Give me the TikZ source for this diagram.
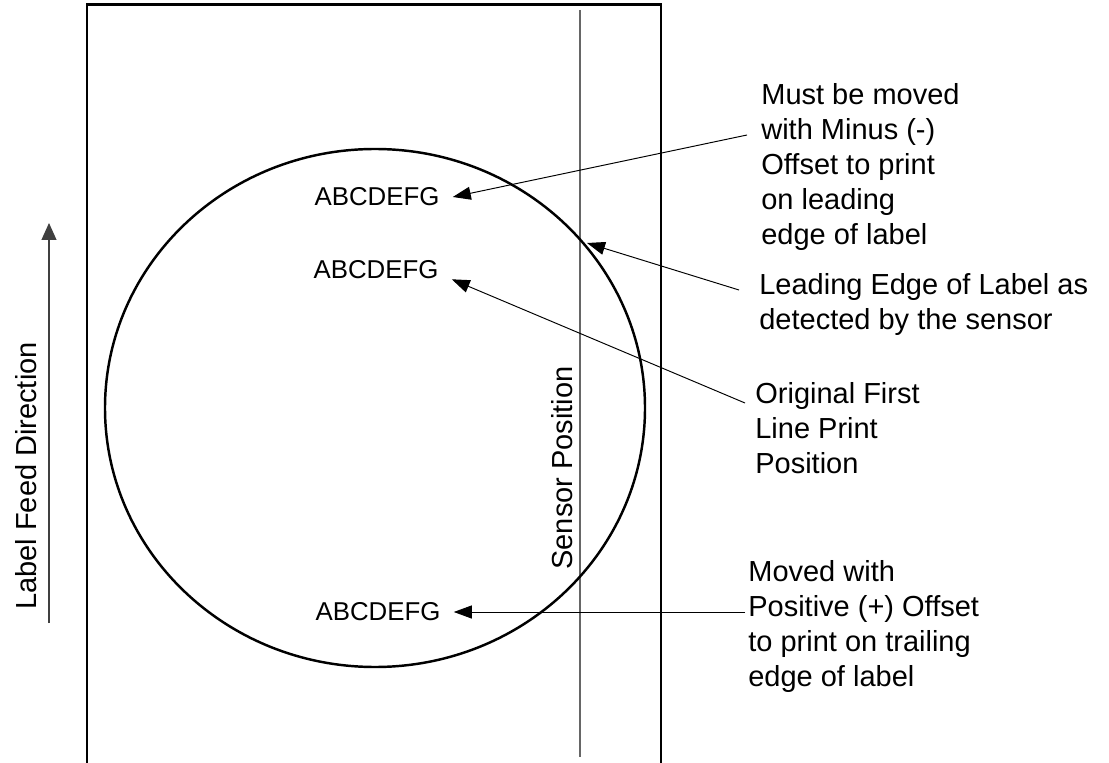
\documentclass[tikz,border=0pt]{standalone}
\usepackage{fontspec}
\setmainfont{Liberation Sans}
\usetikzlibrary{arrows.meta}

\begin{document}
\begin{tikzpicture}[x=0.02cm, y=-0.02cm,
    every node/.style={inner sep=0pt, font=\fontsize{16.5}{19.9}\selectfont},
    note/.style={anchor=north west, align=left},
    sample/.style={inner xsep=0.26cm, inner ysep=0.1cm, font=\fontsize{14.7}{17}\selectfont},
    outline/.style={line width=1.4pt},
    pointer/.style={line width=0.55pt, -{Triangle[length=0.36cm, width=0.26cm]}}]
  \useasboundingbox (0,0) rectangle (1109,763);

  % label, sensor line, print area
  \draw[outline] (87,763) -- (87,4.5) -- (661,4.5) -- (661,763);
  \draw[line width=0.6pt, black!60] (580,10) -- (580,757);
  \draw[outline] (375,408) ellipse [x radius=270, y radius=259];

  % printed samples
  \node[sample] (abc1) at (377,197) {ABCDEFG};
  \node[sample] (abc2) at (376,270) {ABCDEFG};
  \node[sample] (abc3) at (378,612) {ABCDEFG};

  % rotated captions
  \node[rotate=90] (feedtext) at (26,476) {Label Feed Direction};
  \node[rotate=90] (sensortext) at (562,468) {Sensor Position};
  \coordinate (feedtail) at (49,623);
  \coordinate (feedhead) at (49,223);
  \draw[line width=0.6pt, black!75, -{Triangle[length=0.34cm, width=0.3cm]}] (feedtail) -- (feedhead);

  % notes on the right
  \node[note] (mustnote) at (761,83) {Must be moved\\with Minus (-)\\Offset to print\\on leading\\edge of label};
  \node[note] (edgenote) at (759,273) {Leading Edge of Label as\\detected by the sensor};
  \node[note] (orignote) at (755,382) {Original First\\Line Print\\Position};
  \node[note] (movednote) at (748,560) {Moved with\\Positive (+) Offset\\to print on trailing\\edge of label};

  \coordinate (mustfrom) at (747,135);
  \coordinate (edgefrom) at (739,290);
  \coordinate (edgehit) at (587,243);
  \coordinate (origfrom) at (745,403);
  \coordinate (movedfrom) at (745,612);

  \draw[pointer] (mustfrom) -- (abc1.east);
  \draw[pointer] (edgefrom) -- (edgehit);
  \draw[pointer] (origfrom) -- (abc2.-7);
  \draw[pointer] (movedfrom) -- (abc3.east);
\end{tikzpicture}
\end{document}
